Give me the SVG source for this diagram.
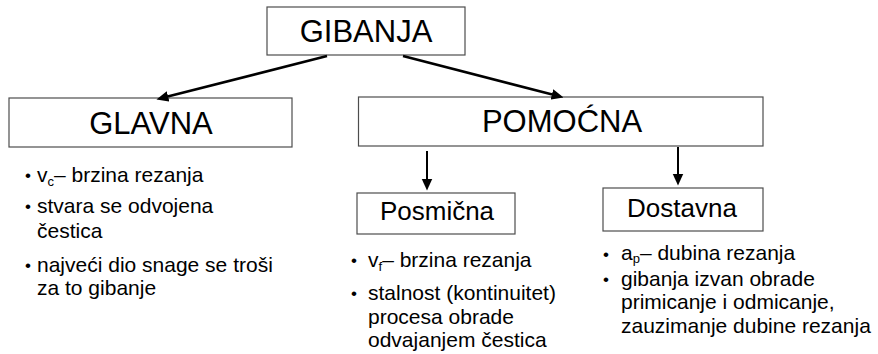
<svg xmlns="http://www.w3.org/2000/svg" width="878" height="354" viewBox="0 0 878 354">
<style>
text{font-family:"Liberation Sans",Arial,sans-serif;fill:#000}
.box{fill:#fff;stroke:#4d4d4d;stroke-width:1.2}
.t1{font-size:31px;text-anchor:middle}
.t2{font-size:26px;text-anchor:middle}
.b{font-size:21px}
.dot{font-size:17px}
.sub{font-size:13px}
.con line{stroke:#000;fill:none}
</style>
<defs>
<marker id="ah" markerUnits="userSpaceOnUse" markerWidth="12" markerHeight="12" viewBox="0 0 10 10" refX="2" refY="5" orient="auto">
<path d="M0,0.5 L10,5 L0,9.5 z" fill="#000"/>
</marker>
</defs>
<rect width="878" height="354" fill="#fff"/>
<g id="gibanja"><rect class="box" x="267" y="7" width="198" height="48"/><text class="t1" x="366" y="42">GIBANJA</text></g>
<g id="glavna"><rect class="box" x="9" y="98" width="283" height="49"/><text class="t1" x="151" y="134">GLAVNA</text></g>
<g id="pomocna"><rect class="box" x="358.5" y="97" width="404.5" height="49"/><text class="t1" x="562" y="132">POMOĆNA</text></g>
<g id="posmicna"><rect class="box" x="357" y="193" width="158" height="41"/><text class="t2" x="437" y="220">Posmična</text></g>
<g id="dostavna"><rect class="box" x="603" y="188" width="160" height="43"/><text class="t2" x="682" y="217">Dostavna</text></g>
<g id="connectors" class="con">
<line x1="327" y1="56" x2="165.75" y2="97.03" stroke-width="2.6" marker-end="url(#ah)"/>
<line x1="403" y1="56" x2="554.25" y2="95" stroke-width="2.6" marker-end="url(#ah)"/>
<line x1="427" y1="151" x2="427" y2="181" stroke-width="2" marker-end="url(#ah)"/>
<line x1="678" y1="147" x2="678" y2="176" stroke-width="2" marker-end="url(#ah)"/>
</g>
<g id="glavna-notes" class="b">
<text class="dot" x="25" y="181">•</text>
<text x="37" y="182">v<tspan class="sub" dy="4">c</tspan><tspan dy="-4">– brzina rezanja</tspan></text>
<text class="dot" x="25" y="212">•</text>
<text x="37" y="213">stvara se odvojena</text>
<text x="37" y="238">čestica</text>
<text class="dot" x="25" y="271">•</text>
<text x="37" y="272">najveći dio snage se troši</text>
<text x="37" y="295">za to gibanje</text>
</g>
<g id="posmicna-notes" class="b">
<text class="dot" x="351" y="266">•</text>
<text x="368" y="267">v<tspan class="sub" dy="4">f</tspan><tspan dy="-4">– brzina rezanja</tspan></text>
<text class="dot" x="351" y="299">•</text>
<text x="368" y="300">stalnost (kontinuitet)</text>
<text x="368" y="324">procesa obrade</text>
<text x="368" y="347">odvajanjem čestica</text>
</g>
<g id="dostavna-notes" class="b">
<text class="dot" x="603" y="260">•</text>
<text x="621" y="260">a<tspan class="sub" dy="3">p</tspan><tspan dy="-3">– dubina rezanja</tspan></text>
<text class="dot" x="603" y="285">•</text>
<text x="621" y="286">gibanja izvan obrade</text>
<text x="621" y="309">primicanje i odmicanje,</text>
<text x="621" y="333">zauzimanje dubine rezanja</text>
</g>
</svg>
